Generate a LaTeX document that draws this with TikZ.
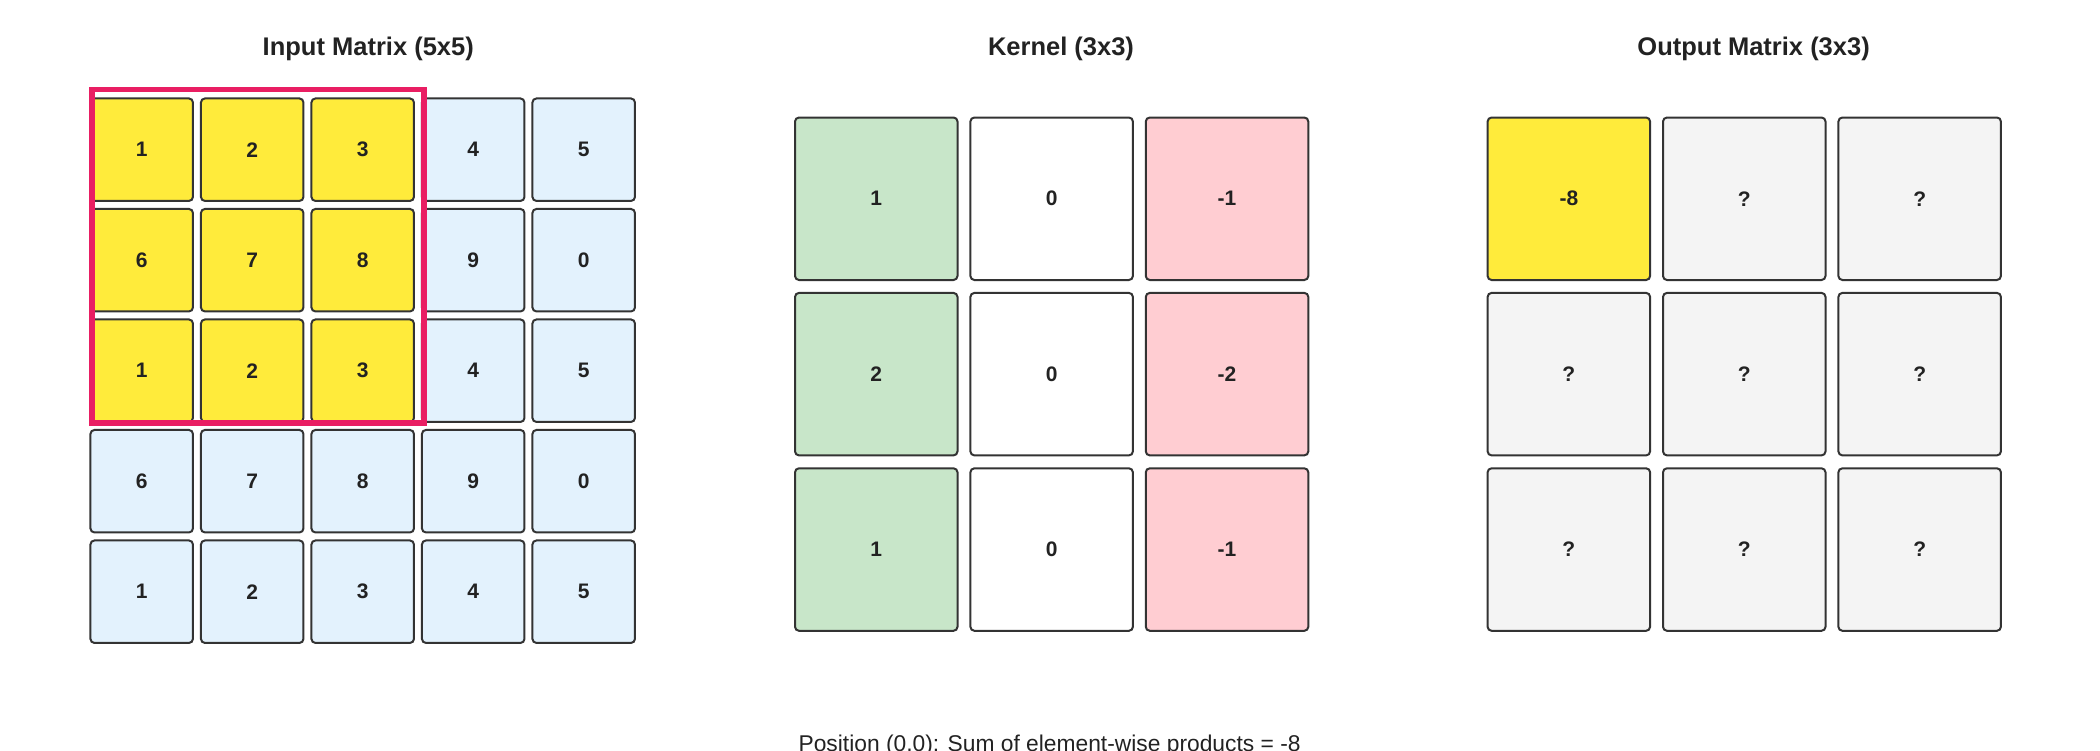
\documentclass[tikz,border=0pt]{standalone}
\usepackage{fontspec}
\setmainfont{Liberation Sans}
\usepackage{tikz}
\usetikzlibrary{positioning}
\definecolor{hilite}{HTML}{FFEB3B}
\definecolor{inblue}{HTML}{E3F2FD}
\definecolor{kgreen}{HTML}{C8E6C9}
\definecolor{kred}{HTML}{FFCDD2}
\definecolor{outgray}{HTML}{F4F4F4}
\definecolor{winred}{HTML}{E91E63}
\definecolor{edge}{HTML}{333333}
\definecolor{ink}{HTML}{222222}
\tikzstyle{cell} = [rectangle, rounded corners=2pt, draw=edge, line width=1pt, text=ink, inner sep=0pt, font=\fontsize{10.5}{12}\selectfont\bfseries]
\tikzstyle{incell} = [cell, minimum size=51.25pt, fill=inblue]
\tikzstyle{bigcell} = [cell, minimum size=81.25pt, fill=white]
\tikzstyle{title} = [anchor=base, text=ink, font=\fontsize{12.75}{15}\selectfont\bfseries]
\tikzstyle{caption} = [anchor=base, text=ink, font=\fontsize{11.4}{13}\selectfont]
\tikzstyle{window} = [draw=winred, line width=2.85pt]

\begin{document}
\begin{tikzpicture}[x=0.5pt, y=-0.5pt]
    \useasboundingbox (0,0) rectangle (2100,750);

    % titles
    \node (intitle) [title] at (368.3,55) {Input Matrix (5x5)};
    \node (ktitle) [title] at (1061,55) {Kernel (3x3)};
    \node (outtitle) [title] at (1753.6,55) {Output Matrix (3x3)};

    % input matrix, window in yellow
    \foreach \row [count=\r from 0] in {{1,2,3,4,5},{6,7,8,9,0},{1,2,3,4,5},{6,7,8,9,0},{1,2,3,4,5}}
        \foreach \v [count=\c from 0] in \row {
            \def\cellfill{inblue}
            \ifnum\r<3 \ifnum\c<3 \def\cellfill{hilite}\fi\fi
            \node (in-\r-\c) [incell, fill=\cellfill] at (141.7+110.5*\c, 149.7+110.5*\r) {\v};
        }
    \draw [window] (92,89.5) rectangle (423.7,422.9);

    % kernel
    \foreach \row [count=\r from 0] in {{1/kgreen,0/white,-1/kred},{2/kgreen,0/white,-2/kred},{1/kgreen,0/white,-1/kred}}
        \foreach \v/\col [count=\c from 0] in \row
            \node (k-\r-\c) [bigcell, fill=\col] at (876.25+175.4*\c, 198.75+175.4*\r) {\v};

    % output
    \node (out-0-0) [bigcell, fill=hilite] at (1568.85,198.75) {-8};
    \foreach \r/\c in {0/1,0/2,1/0,1/1,1/2,2/0,2/1,2/2}
        \node (out-\r-\c) [bigcell, fill=outgray] at (1568.85+175.4*\c, 198.75+175.4*\r) {?};

    \node (sumtext) [caption] at (1049.6,751) {Position (0,0): Sum of element-wise products = -8};
\end{tikzpicture}
\end{document}
